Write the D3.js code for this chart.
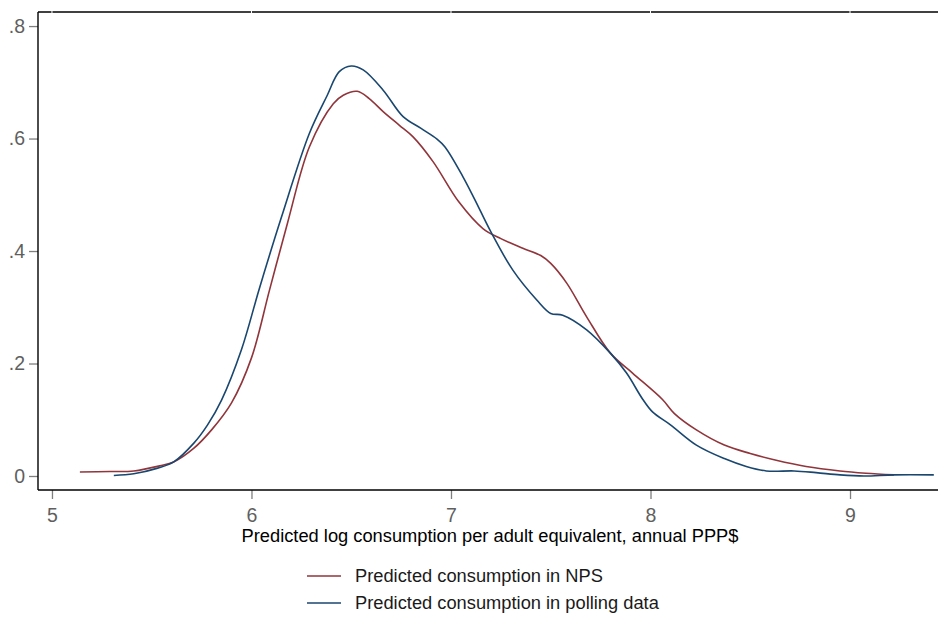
<!DOCTYPE html>
<html>
<head>
<meta charset="utf-8">
<script src="https://cdn.jsdelivr.net/npm/d3@7"></script>
<style>
  body { margin: 0; background: #fff; }
  text { font-family: "Liberation Sans", Arial, sans-serif; }
</style>
</head>
<body>
<script>
var width = 938, height = 617;

// Density estimates
var npsX = [5.14, 5.29, 5.41, 5.54, 5.61, 5.71, 5.8, 5.9, 6.0, 6.09, 6.18, 6.29, 6.41, 6.46, 6.53, 6.59, 6.66, 6.74, 6.81, 6.91, 7.04, 7.16, 7.25, 7.36, 7.45, 7.5, 7.58, 7.68, 7.8, 7.91, 8.06, 8.12, 8.23, 8.37, 8.5, 8.63, 8.78, 8.95, 9.08, 9.22];
var npsY = [0.007, 0.008, 0.009, 0.018, 0.025, 0.049, 0.082, 0.13, 0.21, 0.33, 0.449, 0.585, 0.662, 0.677, 0.684, 0.671, 0.648, 0.624, 0.603, 0.559, 0.487, 0.440, 0.422, 0.405, 0.392, 0.378, 0.343, 0.283, 0.218, 0.183, 0.136, 0.111, 0.082, 0.055, 0.040, 0.028, 0.017, 0.009, 0.005, 0.002];

var pollX = [5.31, 5.41, 5.53, 5.61, 5.71, 5.78, 5.85, 5.95, 6.04, 6.15, 6.29, 6.38, 6.44, 6.5, 6.56, 6.66, 6.76, 6.85, 6.93, 6.97, 7.06, 7.12, 7.2, 7.31, 7.43, 7.5, 7.56, 7.68, 7.8, 7.88, 7.96, 8.01, 8.1, 8.23, 8.37, 8.48, 8.58, 8.72, 8.83, 8.95, 9.07, 9.22, 9.42];
var pollY = [0.001, 0.004, 0.014, 0.025, 0.058, 0.091, 0.135, 0.225, 0.334, 0.46, 0.609, 0.677, 0.719, 0.729, 0.722, 0.686, 0.639, 0.618, 0.599, 0.585, 0.532, 0.491, 0.434, 0.366, 0.313, 0.289, 0.286, 0.260, 0.218, 0.183, 0.137, 0.114, 0.091, 0.055, 0.031, 0.017, 0.009, 0.009, 0.006, 0.002, 0.000, 0.002, 0.002];

var xTicks = [5, 6, 7, 8, 9];
var yTicks = [0, 0.2, 0.4, 0.6, 0.8];
var yTickLabels = ["0", ".2", ".4", ".6", ".8"];

var seriesNames = ["Predicted consumption in NPS", "Predicted consumption in polling data"];
var seriesColors = ["#90353b", "#1a476f"];

var plot = {left: 38, right: 938, top: 12, bottom: 490};

var svg = d3.select("body").append("svg")
    .attr("width", width)
    .attr("height", height);

var xScale = d3.scaleLinear().domain([4.93, 9.441]).range([plot.left, plot.right]);
var yScale = d3.scaleLinear().domain([-0.0249, 0.825]).range([plot.bottom, plot.top]);

// axes
var xAxis = d3.axisBottom(xScale).tickValues(xTicks).tickSize(9).tickPadding(9).tickFormat(d3.format("d"));
var yAxis = d3.axisLeft(yScale).tickValues(yTicks).tickSize(9).tickPadding(4)
    .tickFormat(function(d, i) { return yTickLabels[i]; });

var xAxisGroup = svg.append("g")
    .attr("transform", "translate(0," + plot.bottom + ")")
    .call(xAxis);
var yAxisGroup = svg.append("g")
    .attr("transform", "translate(" + plot.left + ",0)")
    .call(yAxis);

[xAxisGroup, yAxisGroup].forEach(function(g) {
  g.select(".domain").remove();
  g.selectAll(".tick line").attr("stroke", "#7f7f7f").attr("stroke-width", 1.3);
  g.selectAll(".tick text").attr("fill", "#5f5f5f")
    .style("font-size", "19.5px")
    .style("font-family", "'Liberation Sans', Arial, sans-serif");
});

// frame lines: left, bottom, top
svg.append("line").attr("x1", plot.left).attr("x2", plot.right)
   .attr("y1", plot.bottom).attr("y2", plot.bottom)
   .attr("stroke", "#000").attr("stroke-width", 1.4);
svg.append("line").attr("x1", plot.left).attr("x2", plot.left)
   .attr("y1", plot.top).attr("y2", plot.bottom)
   .attr("stroke", "#000").attr("stroke-width", 1.4);
svg.append("line").attr("x1", plot.left).attr("x2", plot.right)
   .attr("y1", plot.top).attr("y2", plot.top)
   .attr("stroke", "#000").attr("stroke-width", 1.4);

// little white notches in the top line at the tick spots
svg.selectAll(".notch")
  .data(xTicks)
  .enter()
  .append("line")
  .attr("x1", function(d) { return xScale(d); })
  .attr("x2", function(d) { return xScale(d); })
  .attr("y1", plot.top - 1)
  .attr("y2", plot.top + 2)
  .attr("stroke", "#fff")
  .attr("stroke-width", 1);

// curves
var line = d3.line()
    .x(function(d) { return xScale(d[0]); })
    .y(function(d) { return yScale(d[1]); })
    .curve(d3.curveCatmullRom.alpha(0.5));

var npsData = d3.zip(npsX, npsY);
var pollData = d3.zip(pollX, pollY);

svg.append("path").datum(npsData)
   .attr("d", line).attr("fill", "none")
   .attr("stroke", seriesColors[0]).attr("stroke-width", 1.6);
svg.append("path").datum(pollData)
   .attr("d", line).attr("fill", "none")
   .attr("stroke", seriesColors[1]).attr("stroke-width", 1.6);

// axis title
svg.append("text")
   .attr("x", (plot.left + plot.right) / 2 + 2)
   .attr("y", 542)
   .attr("text-anchor", "middle")
   .attr("fill", "#000")
   .style("font-size", "18.3px")
   .text("Predicted log consumption per adult equivalent, annual PPP$");

// legend
var legend = svg.selectAll(".legend")
  .data(seriesNames)
  .enter()
  .append("g")
  .attr("transform", function(d, i) { return "translate(307," + (576 + i * 27) + ")"; });

legend.append("line")
  .attr("x1", 0).attr("x2", 34)
  .attr("stroke", function(d, i) { return seriesColors[i]; })
  .attr("stroke-width", 1.6);

legend.append("text")
  .attr("x", 48)
  .attr("y", 0)
  .attr("dy", "0.35em")
  .attr("fill", "#1a1a1a")
  .style("font-size", "18.3px")
  .text(function(d) { return d; });
</script>
</body>
</html>
